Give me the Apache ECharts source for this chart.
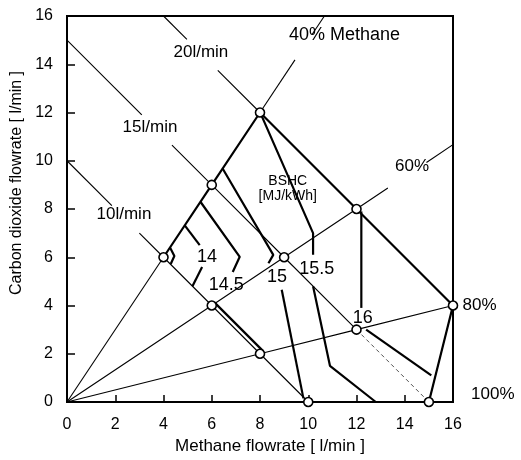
<!DOCTYPE html>
<html>
<head>
<meta charset="utf-8">
<script src="https://cdn.jsdelivr.net/npm/echarts@6/dist/echarts.min.js"></script>
<style>html,body{margin:0;padding:0;background:#fff;}#c{width:521px;height:460px;}</style>
</head>
<body>
<div id="c"></div>
<script>
// ---- data (l/min) ----
var xTicks = [0, 2, 4, 6, 8, 10, 12, 14, 16];
var yTicks = [0, 2, 4, 6, 8, 10, 12, 14, 16];

// measured operating points
var points = [[4,6],[6,9],[8,12],[6,4],[9,6],[12,8],[8,2],[12,3],[16,4],[10,0],[15,0]];

// thin guide lines: constant methane fraction (through origin)
var ray40a = [[0,0],[4,6]];
var ray40b = [[8,12],[9.45,14.18]];
var ray40c = [[10.15,15.22],[10.67,16]];
var ray60a = [[0,0],[6,4],[9,6],[12,8],[13.3,8.87]];
var ray60b = [[14.9,9.93],[16,10.67]];
var ray80  = [[0,0],[8,2],[12,3],[16,4]];

// thin guide lines: constant total flow
var flow10a = [[0,10],[1.86,8.14]];
var flow10b = [[3.0,7.0],[4,6],[6,4],[8,2],[10,0]];
var flow15a = [[0,15],[3.1,11.9]];
var flow15b = [[4.35,10.65],[6,9],[9,6],[12,3]];
var flow15c = [[12,3],[15,0]];
var flow20a = [[4,16],[4.97,15.03]];
var flow20b = [[6.25,13.75],[8,12]];

// operating range boundary
var boundary = [[4,6],[6,9],[8,12],[12,8],[16,4],[15,0]];
var boundaryLow = [[6.12,4.12],[8.12,2.12]];

// BSHC contours [MJ/kWh]
var c135  = [[4.27,6.4],[4.45,6.05],[4.3,5.72]];
var c14a  = [[4.88,7.32],[5.5,6.5]];
var c14b  = [[5.6,5.6],[5.2,4.8]];
var c145  = [[5.53,8.3],[7.16,6.02],[6.87,5.39]];
var c15a  = [[6.45,9.68],[8.55,6.1],[8.35,5.75]];
var c15b  = [[8.9,4.65],[9.8,0.15]];
var c155a = [[8.05,11.9],[10.2,7.0],[10.2,6.1]];
var c155b = [[10.2,4.8],[10.9,1.5],[12.8,0]];
var c16a  = [[12.2,7.9],[12.2,3.9]];
var c16b  = [[12.4,3.0],[15.1,1.1]];

// text annotations
var labelTexts = ['20l/min','15l/min','10l/min','40% Methane','60%','80%','100%','BSHC\n[MJ/kWh]','14','14.5','15','15.5','16'];
var labelPos   = [[5.55,14.5],[3.44,11.37],[2.36,7.8],[11.5,15.2],[14.3,9.75],[17.1,4.0],[17.65,0.3],[9.15,8.85],[5.8,6.0],[6.6,4.85],[8.7,5.2],[10.35,5.5],[12.26,3.49]];
var labelSizes = [17,17,17,18,17,17,17,14,18,18,18,18,18];

// ---- chart ----
var FONT = 'Liberation Sans, Arial, Helvetica, sans-serif';
var series = [];
function addLine(d, w, dashed, color) {
  series.push({
    type: 'line', data: d, symbol: 'none', silent: true, animation: false,
    lineStyle: { color: color || '#000', width: w, opacity: 1, type: dashed ? [4,3] : 'solid' },
    z: w > 1.5 ? 3 : 2
  });
}
[ray40a, ray40b, ray40c, ray60a, ray60b, ray80, flow10a, flow10b, flow15a, flow15b, flow20a, flow20b]
  .forEach(function (d) { addLine(d, 1.1, false); });
addLine(flow15c, 1, true, '#555');
[boundary, boundaryLow, c135, c14a, c14b, c145, c15a, c15b, c155a, c155b, c16a, c16b]
  .forEach(function (d) { addLine(d, 2.2, false); });

series.push({
  type: 'scatter', data: points, symbol: 'circle', symbolSize: 9, animation: false, silent: true,
  itemStyle: { color: '#fff', borderColor: '#000', borderWidth: 1.6, opacity: 1 }, z: 5
});

series.push({
  type: 'scatter', symbolSize: 0, clip: false, animation: false, silent: true, z: 6,
  itemStyle: { opacity: 1 },
  data: labelTexts.map(function (t, i) {
    return { value: labelPos[i], label: { formatter: t, fontSize: labelSizes[i], lineHeight: labelSizes[i] + 1 } };
  }),
  label: { show: true, position: 'inside', color: '#000', opacity: 1, textBorderWidth: 0, fontFamily: FONT, align: 'center', verticalAlign: 'middle' }
});

var chart = echarts.init(document.getElementById('c'), null, { renderer: 'canvas' });
chart.setOption({
  backgroundColor: '#fff',
  animation: false,
  grid: { left: 67, right: 68, top: 16, bottom: 58, show: true, borderColor: '#000', borderWidth: 2, backgroundColor: 'transparent' },
  xAxis: {
    type: 'value', min: xTicks[0], max: xTicks[xTicks.length - 1], interval: 2,
    name: 'Methane flowrate [ l/min ]', nameLocation: 'middle', nameGap: 33,
    nameTextStyle: { fontFamily: FONT, fontSize: 17, color: '#000', padding: [0, 0, 0, 20] },
    axisLine: { lineStyle: { color: '#000', width: 2 } },
    axisTick: { inside: true, length: 7, lineStyle: { color: '#000', width: 1.5 } },
    axisLabel: { margin: 15, fontFamily: FONT, fontSize: 16, color: '#000' },
    splitLine: { show: false }
  },
  yAxis: {
    type: 'value', min: yTicks[0], max: yTicks[yTicks.length - 1], interval: 2,
    name: 'Carbon dioxide flowrate [ l/min ]', nameLocation: 'middle', nameGap: 38,
    nameTextStyle: { fontFamily: FONT, fontSize: 16, color: '#000', padding: [0, 0, 0, 52] },
    axisLine: { lineStyle: { color: '#000', width: 2 } },
    axisTick: { inside: true, length: 8, lineStyle: { color: '#000', width: 1.5 } },
    axisLabel: { margin: 14, fontFamily: FONT, fontSize: 16, color: '#000' },
    splitLine: { show: false }
  },
  series: series
});
</script>
</body>
</html>
